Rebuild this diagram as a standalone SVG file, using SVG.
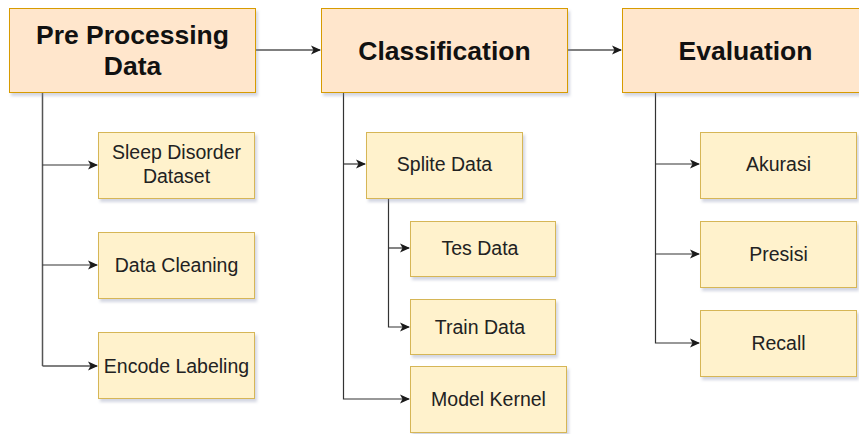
<svg xmlns="http://www.w3.org/2000/svg" width="859" height="434" viewBox="0 0 859 434">
<defs>
<filter id="sh" x="-10%" y="-10%" width="130%" height="140%">
<feDropShadow dx="2" dy="3" stdDeviation="1.5" flood-color="#8088aa" flood-opacity="0.35"/>
</filter>
<marker id="ah" viewBox="0 0 10 10" refX="9" refY="5" markerWidth="10" markerHeight="10" markerUnits="userSpaceOnUse" orient="auto">
<path d="M0,0.5 L10,5 L0,9.5 L2.5,5 Z" fill="#1a1a1a"/>
</marker>
<style>
.main{fill:#ffe6cc;stroke:#d79b00;stroke-width:1;filter:url(#sh)}
.sub{fill:#fff2cc;stroke:#d6b656;stroke-width:1;filter:url(#sh)}
.t1{font-family:"Liberation Sans",Arial,sans-serif;font-weight:bold;font-size:26.5px;fill:#111;text-anchor:middle}
.t2{font-family:"Liberation Sans",Arial,sans-serif;font-size:19.5px;fill:#222;text-anchor:middle}
.c{fill:none;stroke:#333;stroke-width:1.2}
.c2{fill:none;stroke:#555;stroke-width:1.5}
</style>
</defs>
<g id="connectors">
<path class="c2" d="M255,50 H320" marker-end="url(#ah)"/>
<path class="c2" d="M567,50 H621" marker-end="url(#ah)"/>
<path class="c2" d="M42.5,92 V366"/>
<path class="c" d="M42.5,165 H97" marker-end="url(#ah)"/>
<path class="c" d="M42.5,265 H97" marker-end="url(#ah)"/>
<path class="c2" d="M42.5,366 H97" marker-end="url(#ah)"/>
<path class="c" d="M343.5,92 V399 H409" marker-end="url(#ah)"/>
<path class="c" d="M343.5,164 H365" marker-end="url(#ah)"/>
<path class="c" d="M388.5,198 V327 H409" marker-end="url(#ah)"/>
<path class="c" d="M388.5,248 H409" marker-end="url(#ah)"/>
<path class="c" d="M655.5,92 V343 H699" marker-end="url(#ah)"/>
<path class="c" d="M655.5,164 H699" marker-end="url(#ah)"/>
<path class="c" d="M655.5,254 H699" marker-end="url(#ah)"/>
</g>
<g id="preprocessing">
<rect class="main" x="9.5" y="8.5" width="246" height="84"/>
<text class="t1" x="132.5" y="44">Pre Processing</text>
<text class="t1" x="132.5" y="75">Data</text>
</g>
<g id="classification">
<rect class="main" x="321.5" y="8.5" width="246" height="84"/>
<text class="t1" x="444.5" y="59.5">Classification</text>
</g>
<g id="evaluation">
<rect class="main" x="622.5" y="8.5" width="246" height="84"/>
<text class="t1" x="745.5" y="59.5">Evaluation</text>
</g>
<g id="sleep">
<rect class="sub" x="98.5" y="132.5" width="156" height="66"/>
<text class="t2" x="176.5" y="159">Sleep Disorder</text>
<text class="t2" x="176.5" y="183">Dataset</text>
</g>
<g id="cleaning">
<rect class="sub" x="98.5" y="232.5" width="156" height="66"/>
<text class="t2" x="176.5" y="272">Data Cleaning</text>
</g>
<g id="encode">
<rect class="sub" x="98.5" y="332.5" width="156" height="66"/>
<text class="t2" x="176.5" y="373">Encode Labeling</text>
</g>
<g id="splite">
<rect class="sub" x="366.5" y="132.5" width="156" height="66"/>
<text class="t2" x="444.5" y="171">Splite Data</text>
</g>
<g id="tes">
<rect class="sub" x="410.5" y="221.5" width="145" height="55"/>
<text class="t2" x="480" y="255">Tes Data</text>
</g>
<g id="train">
<rect class="sub" x="410.5" y="299.5" width="145" height="55"/>
<text class="t2" x="480" y="334">Train Data</text>
</g>
<g id="kernel">
<rect class="sub" x="410.5" y="366.5" width="156" height="66"/>
<text class="t2" x="488.5" y="406">Model Kernel</text>
</g>
<g id="akurasi">
<rect class="sub" x="700.5" y="132.5" width="156" height="66"/>
<text class="t2" x="778.5" y="171">Akurasi</text>
</g>
<g id="presisi">
<rect class="sub" x="700.5" y="221.5" width="156" height="66"/>
<text class="t2" x="778.5" y="261">Presisi</text>
</g>
<g id="recall">
<rect class="sub" x="700.5" y="310.5" width="156" height="66"/>
<text class="t2" x="778.5" y="350">Recall</text>
</g>
</svg>
